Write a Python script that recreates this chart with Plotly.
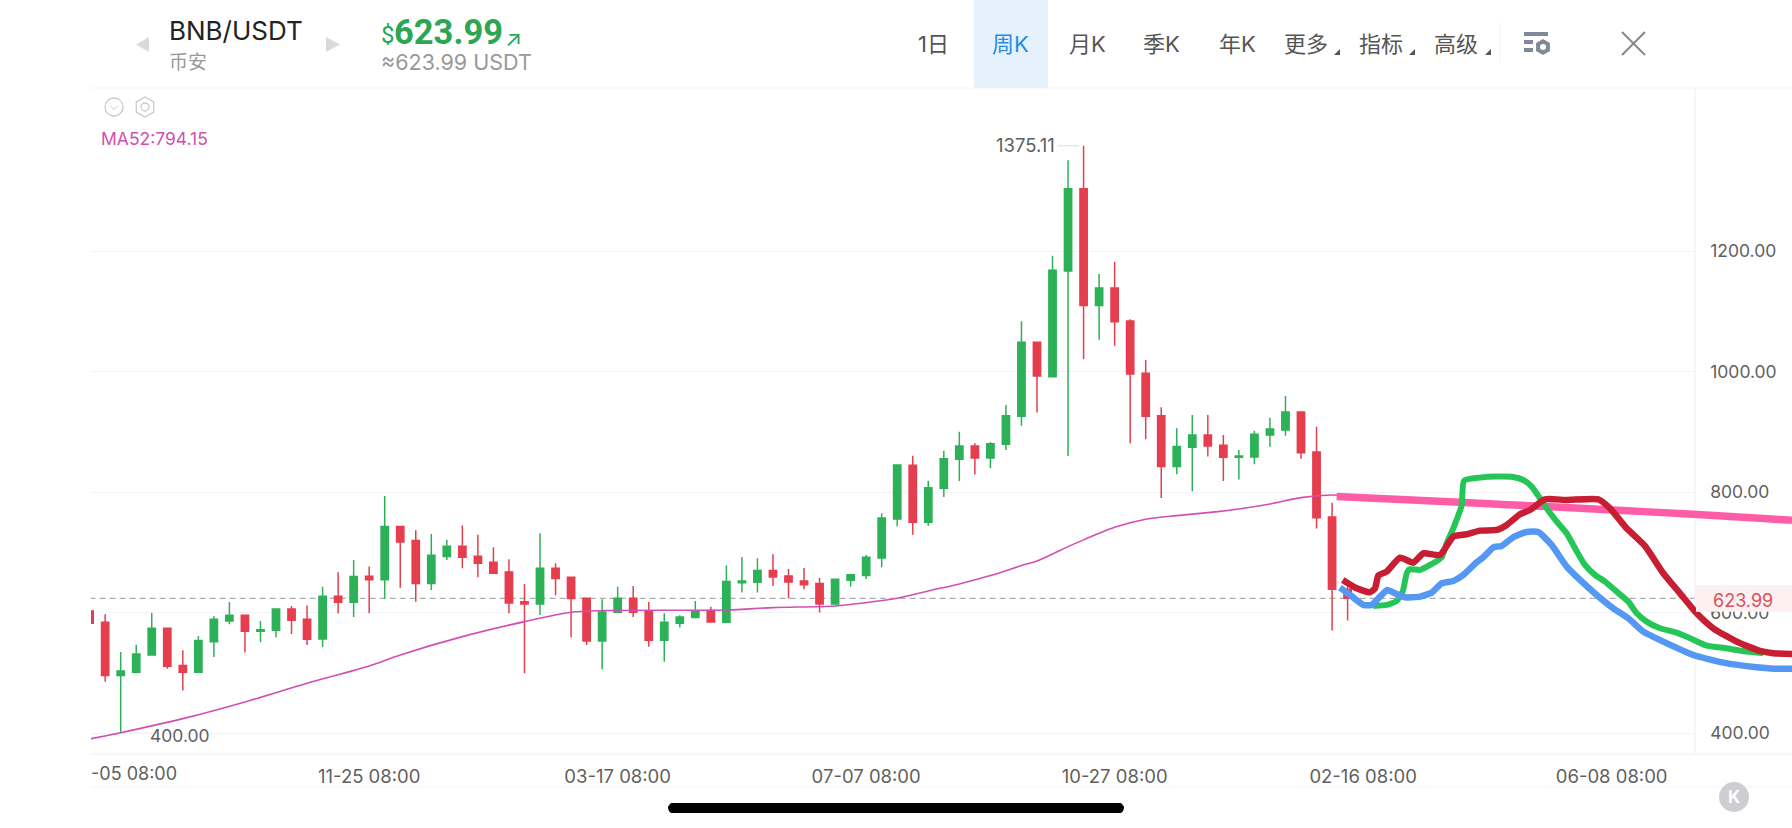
import plotly.graph_objects as go

W = 1792
H = 828

# Data
weeks = list(range(82))
opens = [603, 584.2, 495.7, 501.2, 530, 574.3, 512.3, 501.2, 552.1, 586.4,
         595.8, 569.3, 571, 606.3, 589.2, 556.6, 627.4, 617.4, 660.5, 655,
         743, 719.8, 648.4, 693.2, 710.3, 693.7, 683.8, 667.7, 618.5, 614.6,
         673.8, 658.9, 624, 553.2, 600.8, 624, 601.9, 554.3, 582.6, 592,
         603.6, 584.2, 650, 650.6, 670, 661, 652.8, 648.4, 614.6, 653.9,
         661.7, 691, 755.7, 844.8, 750.2, 806.6, 854.7, 876.9, 856.9, 879.6,
         926.1, 1048.9, 991.9, 1167.3, 1303.9, 1109.8, 1139.1, 1084.3, 997.5, 927.2,
         842.6, 874.7, 895.1, 878, 858, 858.6, 895.1, 903.4, 933.3, 866.9,
         759, 639]
highs = [608, 597.5, 535, 547, 599.7, 574.8, 537.7, 561.5, 594.2, 618,
         595.8, 586.4, 606.3, 611.3, 611.9, 643.4, 667.2, 687.7, 676.6, 793.9,
         743, 736.9, 730.8, 721.4, 745.2, 729.7, 708.7, 688.8, 647.8, 731.9,
         682.1, 658.9, 624, 622.4, 643.4, 644.5, 618, 599.2, 595.8, 619.6,
         610.2, 678.8, 692.6, 690.4, 697, 672.7, 674.4, 658.3, 655.6, 664.4,
         696.5, 765, 846.4, 860.8, 819.3, 869.1, 900.6, 881.3, 883.5, 944.9,
         1083.8, 1050, 1192.7, 1350.9, 1375.11, 1162.3, 1182.8, 1087, 1019.6, 941,
         906.2, 928.3, 928.3, 895.1, 870.2, 902.3, 923.9, 959.8, 933.3, 908.9,
         782.8, 643]
lows = [575, 485.7, 400, 499.6, 528.9, 507.3, 470.8, 500.7, 526.7, 580.9,
        533.9, 551, 558.8, 564.9, 546.6, 543.3, 598.6, 593.1, 599.2, 623.5,
        641.7, 618.5, 637.9, 687.7, 673.8, 658.9, 664.4, 599.2, 499.6, 596.4,
        629, 559.3, 546.6, 506.2, 600.8, 593.1, 543.8, 518.9, 575.4, 592,
        584.8, 584.2, 633.5, 633.5, 644.5, 623.5, 639, 600.3, 614.6, 643.4,
        656.1, 675.5, 743, 729.7, 744.6, 792.2, 818.8, 829.3, 839.8, 870.2,
        910.6, 932.2, 991.9, 860.3, 1021.2, 1053.3, 1043.4, 881.3, 887.9, 790.6,
        829.8, 801.6, 859.2, 818.8, 821, 846.4, 875.2, 894, 855.8, 739.7,
        570.4, 587]
closes = [582.6, 495.7, 503.4, 531.7, 574.3, 511.2, 501.2, 553.8, 589.2, 595.8,
          569.3, 572, 606.3, 587.5, 556, 627.4, 617.4, 660, 655, 743,
          717.5, 648.4, 695.4, 710.3, 692.1, 682.1, 665.5, 616.3, 614.6, 673.8,
          656.7, 623.5, 553.2, 601.4, 624, 600.8, 554.3, 584.2, 593.1, 602.5,
          584.8, 651.7, 652.8, 670, 659.5, 651.2, 646.7, 614.6, 655.6, 663.3,
          692, 757.4, 845.3, 750.2, 807.7, 855.8, 876.9, 856.9, 880.7, 927.2,
          1048.9, 993, 1168.4, 1303.9, 1109.8, 1139.1, 1083.2, 996.4, 926.1, 842.6,
          875.8, 895.1, 876.9, 858, 860.3, 896.2, 905, 933.3, 865.8, 757.9,
          639, 623.99]

ma_weeks = [0, 2, 6, 10, 14, 18, 20, 24, 28, 31, 33, 41, 44, 48, 50, 52, 54, 56,
            58, 60, 61, 62, 63, 64, 66, 68, 70, 72, 74, 76, 78, 80, 81]
ma52 = [390.6, 401, 424.3, 452, 483, 511.7, 530, 560.4, 585.3, 600.8, 603.6, 604.7,
        608.6, 611.3, 616.9, 624, 636.2, 647.8, 661.7, 678.3, 686, 697.6, 709.8,
        721, 741.9, 755.2, 761.2, 766.2, 772.3, 780.6, 791.1, 795.5, 794.15]

# hand drawn lines over the chart
pink_x = [80.30, 88.24, 93.82, 98.11, 103.27, 109.62]
pink_y = [792.8, 783.4, 776.2, 770.6, 763.5, 753.5]
green_x = [82.66, 83.52, 84.16, 84.55, 84.81, 84.98, 85.66, 86.31, 87.06, 87.38, 87.81, 88.35,
           88.50, 89.53, 90.60, 91.67, 92.32, 92.86, 93.39, 93.82, 94.47, 95.11, 95.65, 96.29,
           96.93, 97.58, 98.33, 99.08, 99.62, 100.26, 101.12, 102.19, 103.05, 104.12, 105.41,
           106.70, 107.77]
green_y = [611.3, 613.0, 619.6, 635.1, 665.5, 672.2, 671.1, 679.4, 692.1, 715.3, 740.2, 778.9,
           819.3, 824.3, 826.0, 825.4, 820.4, 809.4, 790.0, 773.4, 751.3, 731.9, 707.0, 679.4,
           662.8, 651.7, 635.1, 618.5, 599.2, 585.3, 574.3, 567.1, 557.7, 545.5, 541.1,
           535.5, 532.8]
blue_x = [80.51, 81.16, 82.02, 82.55, 83.09, 83.56, 84.06, 84.70, 85.66, 86.42, 87.06, 87.81,
          88.46, 89.31, 89.74, 90.39, 90.92, 91.67, 92.53, 93.28, 94.14, 95.11, 95.97, 97.04,
          98.11, 99.08, 100.05, 101.33, 103.27, 105.20, 107.34, 108.42, 109.62]
blue_y = [641.7, 629.6, 613.0, 613.0, 626.8, 637.9, 632.3, 625.7, 626.8, 633.5, 648.9, 652.8,
          662.8, 683.8, 692.1, 708.7, 710.9, 725.3, 734.1, 734.1, 712.6, 676.6, 654.5, 629.6,
          607.5, 590.9, 568.7, 552.1, 530.0, 517.3, 509.5, 507.3, 507.3]
red_x = [80.69, 81.59, 82.45, 82.77, 82.98, 83.52, 84.38, 85.24, 85.88, 86.95, 87.81, 88.67,
         89.53, 90.60, 91.25, 92.10, 92.75, 93.71, 95.11, 97.15, 97.90, 98.97, 100.15, 101.33,
         102.41, 103.48, 104.55, 106.06, 107.56, 108.42, 109.62]
red_y = [654.5, 640.6, 634.0, 640.6, 661.7, 668.3, 691.5, 683.2, 698.7, 696.0, 726.4, 730.3,
         736.3, 737.5, 745.8, 763.5, 770.6, 788.3, 787.2, 788.3, 773.4, 740.2, 710.9, 665.5,
         632.3, 599.2, 574.3, 552.1, 536.6, 532.8, 531.7]

tick_weeks = [18, 34, 50, 66, 82, 98]
tick_labels = ['11-25 08:00', '03-17 08:00', '07-07 08:00', '10-27 08:00', '02-16 08:00', '06-08 08:00']
price_ticks = [400, 600, 800, 1000, 1200]
last_price = 623.99

UP = '#2DB158'
DOWN = '#E53E4E'
GRID = '#F3F3F6'
TEXT = '#5F5F5F'
SANS = 'Inter, "Noto Sans CJK SC", sans-serif'
PRICE_RANGE = [365.1, 1471]


# page pixels to paper coordinates
def px(x):
    return x / W


def py(y):
    return 1 - y / H


def label(x, y, text, size, color, anchor='left', family=SANS):
    return dict(xref='paper', yref='paper', x=px(x), y=py(y), text=text, showarrow=False,
                xanchor=anchor, yanchor='middle', align=anchor,
                font=dict(size=size, color=color, family=family))


def page_line(x0, y0, x1, y1, color, width=1):
    return dict(type='line', xref='paper', yref='paper', x0=px(x0), y0=py(y0), x1=px(x1), y1=py(y1),
                line=dict(color=color, width=width), layer='below')


def page_path(points, fill):
    d = 'M ' + ' L '.join(f'{px(x)} {py(y)}' for x, y in points) + ' Z'
    return dict(type='path', xref='paper', yref='paper', path=d, fillcolor=fill,
                line=dict(width=0), layer='above')


def page_box(x0, y0, x1, y1, fill, layer='below'):
    return dict(type='rect', xref='paper', yref='paper', x0=px(x0), y0=py(y0), x1=px(x1), y1=py(y1),
                fillcolor=fill, line=dict(width=0), layer=layer)


def page_circle(x, y, r, fill=None, edge=None, width=1.3):
    return dict(type='circle', xref='paper', yref='paper', x0=px(x - r), y0=py(y + r), x1=px(x + r),
                y1=py(y - r), fillcolor=fill or 'rgba(0,0,0,0)',
                line=dict(color=edge or 'rgba(0,0,0,0)', width=width if edge else 0), layer='above')


def hexagon(x, y, r, edge=None, fill=None, width=1.3):
    pts = [(x, y - r), (x + r * 0.87, y - r / 2), (x + r * 0.87, y + r / 2),
           (x, y + r), (x - r * 0.87, y + r / 2), (x - r * 0.87, y - r / 2)]
    d = 'M ' + ' L '.join(f'{px(a)} {py(b)}' for a, b in pts) + ' Z'
    return dict(type='path', xref='paper', yref='paper', path=d, fillcolor=fill or 'rgba(0,0,0,0)',
                line=dict(color=edge or 'rgba(0,0,0,0)', width=width if edge else 0), layer='above')


fig = go.Figure()

fig.add_trace(go.Candlestick(
    x=weeks, open=opens, high=highs, low=lows, close=closes,
    increasing=dict(line=dict(color=UP, width=1.5), fillcolor=UP),
    decreasing=dict(line=dict(color=DOWN, width=1.5), fillcolor=DOWN),
    whiskerwidth=0, hoverinfo='skip', showlegend=False
))
fig.add_trace(go.Scatter(x=ma_weeks, y=ma52, mode='lines',
                         line=dict(color='#D14FB0', width=1.6, shape='spline', smoothing=0.8),
                         hoverinfo='skip', showlegend=False))

# these run past the price axis, so they sit on a second wider pair of axes
for xs, ys, color, lw in [(pink_x, pink_y, '#FF5CA8', 7.5), (green_x, green_y, '#25C557', 6),
                          (blue_x, blue_y, '#5598F4', 6.5), (red_x, red_y, '#C81E34', 6.5)]:
    fig.add_trace(go.Scatter(x=xs, y=ys, mode='lines', xaxis='x2', yaxis='y2',
                             line=dict(color=color, width=lw, shape='spline', smoothing=0.5),
                             hoverinfo='skip', showlegend=False))

shapes = [
    page_box(974, 0, 1048, 88, '#E5F1FC'),
    page_line(91, 88, W, 88, GRID),
    page_line(91, 754, W, 754, '#EFEFF2'),
    page_line(91, 787, W, 787, GRID),
    page_line(1695, 88, 1695, 754, '#EFEFF2'),
    page_line(1500, 23, 1500, 62, GRID),
    # price dash and price tag
    dict(type='line', xref='x', yref='y', x0=0, x1=103.35, y0=last_price, y1=last_price,
         line=dict(color='#999999', width=1, dash='6px,4px'), layer='below'),
    dict(type='rect', xref='paper', yref='y', x0=px(1696), x1=1, y0=601.9, y1=646.1,
         fillcolor='#FDF0F0', line=dict(width=0), layer='above'),
    # leader lines of the high and low labels
    dict(type='line', xref='paper', yref='y', x0=px(1058), x1=px(1079), y0=1375.11, y1=1375.11,
         line=dict(color='#DDDDDD', width=1), layer='below'),
    dict(type='line', xref='paper', yref='y', x0=px(121), x1=px(148), y0=400, y1=400,
         line=dict(color='#DDDDDD', width=1), layer='below'),
    # header arrows
    page_path([(149, 37), (149, 52), (136, 44.5)], '#DADADA'),
    page_path([(326, 37), (326, 52), (340, 44.5)], '#DADADA'),
    # small icons
    page_circle(114, 107, 9, edge='#C9C9C9'),
    hexagon(145, 107, 10, edge='#C9C9C9'),
    page_circle(145, 107, 4, edge='#C9C9C9'),
    page_line(110, 105.5, 114, 109.5, '#C9C9C9'),
    page_line(114, 109.5, 118, 105.5, '#C9C9C9'),
    # little corner marks of the menu
    page_path([(1340, 49), (1340, 55), (1334, 55)], '#555555'),
    page_path([(1415, 49), (1415, 55), (1409, 55)], '#555555'),
    page_path([(1491, 49), (1491, 55), (1485, 55)], '#555555'),
    # settings icon
    page_box(1524, 32, 1548, 36, '#7F8A99', 'above'),
    page_box(1524, 40, 1533, 44, '#7F8A99', 'above'),
    page_box(1524, 48, 1533, 52, '#7F8A99', 'above'),
    hexagon(1543, 47, 8, fill='#7F8A99'),
    page_circle(1543, 47, 3, fill='#FFFFFF'),
    # close cross
    page_line(1622, 32, 1645, 55, '#888888', 2),
    page_line(1645, 32, 1622, 55, '#888888', 2),
    # round K button and home bar
    page_circle(1734, 797, 15, fill='#CDCDD2'),
    dict(type='path', xref='paper', yref='paper', fillcolor='#000000', line=dict(width=0), layer='above',
         path=f'M {px(671)} {py(803)} L {px(1121)} {py(803)} Q {px(1127)} {py(808)} {px(1121)} {py(813)} '
              f'L {px(671)} {py(813)} Q {px(665)} {py(808)} {px(671)} {py(803)} Z'),
]

annotations = [
    label(167, 31, 'BNB/USDT', 26, '#222222'),
    label(167, 62, '币安', 19, '#999999'),
    label(379, 35, '$', 24, '#2CA652', family='Roboto'),
    label(392, 32, '<b>623.99</b>', 34.5, '#2CA652', family='Roboto'),
    label(503, 38, '↗', 22, '#2CA652'),
    label(379, 62, '≈623.99 USDT', 21.5, '#999999'),
    label(99, 139, 'MA52:794.15', 17.5, '#D14FB0'),
    label(933, 44, '1日', 22, '#555555', 'center'),
    label(1011, 44, '周K', 22, '#2A8BE0', 'center'),
    label(1087, 44, '月K', 22, '#555555', 'center'),
    label(1161, 44, '季K', 22, '#555555', 'center'),
    label(1237, 44, '年K', 22, '#555555', 'center'),
    label(1306, 44, '更多', 22, '#555555', 'center'),
    label(1381, 44, '指标', 22, '#555555', 'center'),
    label(1456, 44, '高级', 22, '#555555', 'center'),
    label(1057, 145, '1375.11', 18.5, TEXT, 'right'),
    label(148, 735, '400.00', 17.5, TEXT),
    label(1711, 600, '623.99', 18, '#D8505F'),
    label(89, 773, '-05 08:00', 18, TEXT),
    label(1734, 797, '<b>K</b>', 17, '#FFFFFF', 'center'),
]

fig.update_layout(
    width=W, height=H, margin=dict(l=0, r=0, t=0, b=0, pad=0),
    paper_bgcolor='#FFFFFF', plot_bgcolor='rgba(0,0,0,0)',
    boxgap=0.33, showlegend=False, dragmode=False,
    shapes=shapes, annotations=annotations,
    font=dict(family=SANS, color=TEXT, size=17.5),
    xaxis=dict(domain=[px(91), px(1694.7)], range=[0.088, 103.35], tickmode='array',
               tickvals=tick_weeks, ticktext=tick_labels, showgrid=False, zeroline=False,
               showline=False, ticks='outside', ticklen=5, tickcolor='rgba(0,0,0,0)',
               rangeslider=dict(visible=False), anchor='y', tickfont=dict(size=18.5, color=TEXT)),
    xaxis2=dict(domain=[px(91), 1], range=[0.088, 109.62], visible=False, anchor='y2'),
    yaxis=dict(domain=[py(754.3), py(88)], range=PRICE_RANGE, side='right', anchor='x',
               tickmode='array', tickvals=price_ticks, ticktext=[f'{p:.2f}' for p in price_ticks],
               showgrid=True, gridcolor=GRID, gridwidth=1, zeroline=False, showline=False,
               ticks='outside', ticklen=11, tickcolor='rgba(0,0,0,0)', tickfont=dict(size=17.5, color=TEXT)),
    yaxis2=dict(domain=[py(754.3), py(88)], range=PRICE_RANGE, visible=False, anchor='x2'),
)

fig.write_html("out.html", config=dict(displayModeBar=False, staticPlot=True),
               post_script="document.body.style.margin='0';")
